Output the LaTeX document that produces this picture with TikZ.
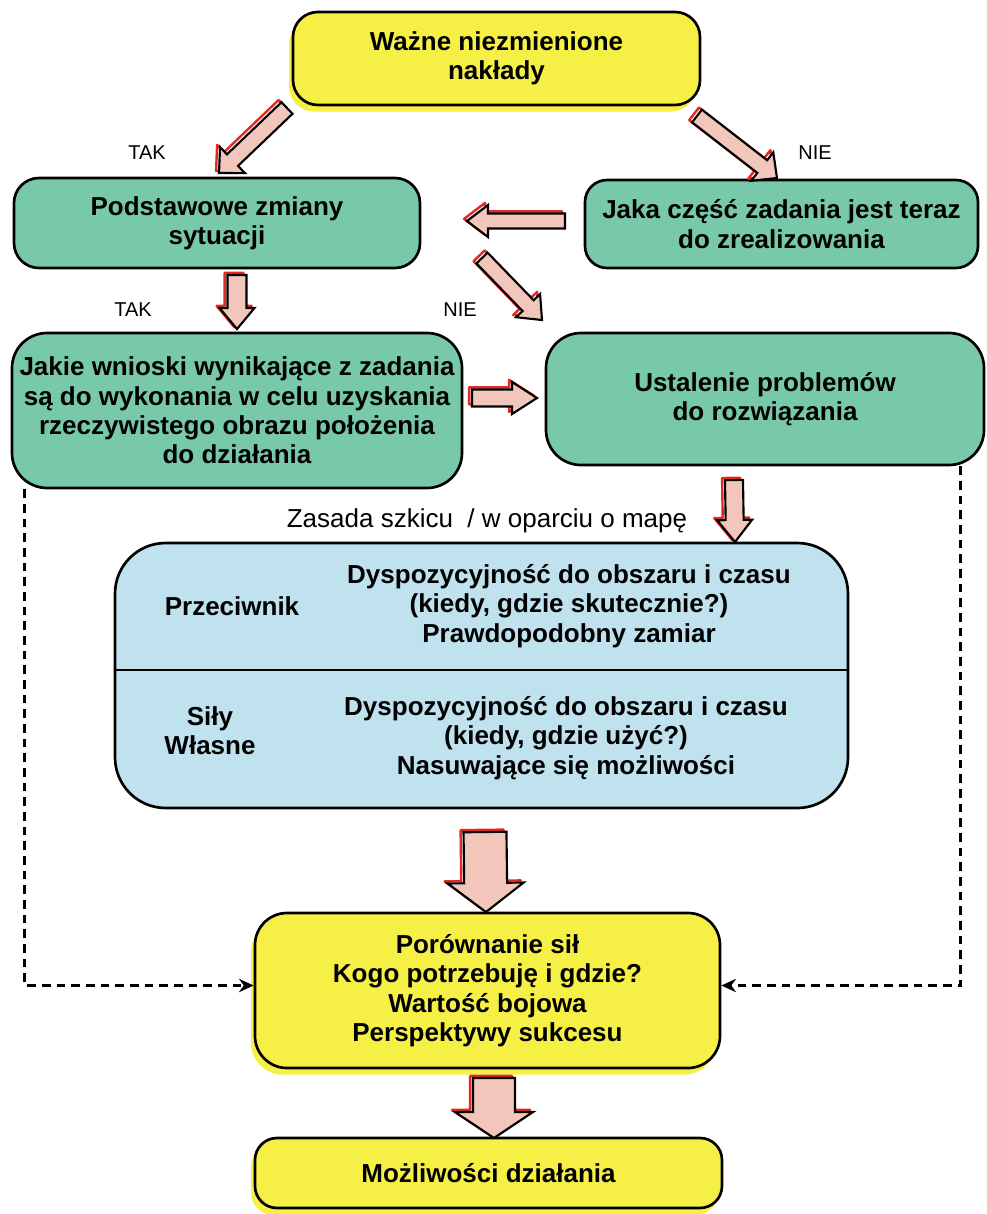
\documentclass[tikz,border=0pt]{standalone}
\usepackage{fontspec}
\setmainfont{Liberation Sans}
\usetikzlibrary{calc,shadows,arrows.meta}
\definecolor{yellowc}{RGB}{246,240,70}
\definecolor{tealc}{RGB}{120,200,170}
\definecolor{bluec}{RGB}{192,225,238}
\definecolor{pinkc}{RGB}{243,198,188}
\definecolor{redc}{RGB}{232,40,30}
\newcommand\bt{\fontsize{19.5}{22}\selectfont\bfseries}
\newcommand\lt{\fontsize{15}{18}\selectfont}
\newcommand\blockarrow[5]{%
  \coordinate (bah) at ($(#2)!#5!(#1)$);
  \begin{scope}[transform canvas={xshift=-2.2pt,yshift=1.6pt}]
    \draw[barshadow] ($(#1)!#3!90:(#2)$) -- ($(bah)!#3!90:(#2)$) -- ($(bah)!#4!90:(#2)$) -- (#2) -- ($(bah)!#4!-90:(#2)$) -- ($(bah)!#3!-90:(#2)$) -- ($(#1)!#3!-90:(#2)$) -- cycle;
  \end{scope}
  \draw[barbody] ($(#1)!#3!90:(#2)$) -- ($(bah)!#3!90:(#2)$) -- ($(bah)!#4!90:(#2)$) -- (#2) -- ($(bah)!#4!-90:(#2)$) -- ($(bah)!#3!-90:(#2)$) -- ($(#1)!#3!-90:(#2)$) -- cycle;
}
\begin{document}
\begin{tikzpicture}[x=0.75pt,y=-0.75pt,
  box/.style={draw=black, line width=2pt, align=center, inner sep=0pt, font=\bt},
  ybox/.style={box, fill=yellowc, drop shadow={shadow xshift=-3pt, shadow yshift=-5pt, fill=yellowc, opacity=1}},
  tbox/.style={box, fill=tealc},
  bbox/.style={box, fill=bluec},
  txt/.style={align=center, inner sep=0pt, font=\bt},
  lbl/.style={inner sep=0pt, font=\lt},
  barshadow/.style={draw=redc, line width=1.8pt, line join=round},
  barbody/.style={draw=black, fill=pinkc, line width=1.6pt, line join=miter},
  dashconn/.style={draw=black, line width=1.8pt, dash pattern=on 6.5pt off 4.5pt, -{Stealth[length=11pt,width=10pt]}}
]
\useasboundingbox (0,0) rectangle (986,1214);
\fill[white] (0,0) rectangle (986,1214);

% boxes
\node[ybox, minimum width=305.25pt, minimum height=69.75pt, rounded corners=18.75pt] (top) at (496.5,58.5) {Ważne niezmienione\\nakłady};
\node[tbox, minimum width=304.5pt, minimum height=67.5pt, rounded corners=18.75pt] (podst) at (217,223) {Podstawowe zmiany\\sytuacji};
\node[tbox, minimum width=294.75pt, minimum height=66pt, rounded corners=16.5pt] (jaka) at (781.5,224) {Jaka część zadania jest teraz\\do zrealizowania};
\node[tbox, minimum width=337.5pt, minimum height=116.25pt, rounded corners=26.25pt] (jakie) at (237,410.5) {Jakie wnioski wynikające z zadania\\są do wykonania w celu uzyskania\\rzeczywistego obrazu położenia\\do działania};
\node[tbox, minimum width=328.5pt, minimum height=99pt, rounded corners=26.25pt] (ust) at (765,399) {Ustalenie problemów\\do rozwiązania};
\node[bbox, minimum width=549.75pt, minimum height=198.75pt, rounded corners=38pt] (blue) at (481.5,675.5) {};
\draw[line width=2pt] (blue.west |- 0,670) -- (blue.east |- 0,670);
\node[txt] (przec) at (232,606) {Przeciwnik};
\node[txt] (przectx) at (569,606) {Dyspozycyjność do obszaru i czasu\\(kiedy, gdzie skutecznie?)\\Prawdopodobny zamiar};
\node[txt] (sily) at (210,731) {Siły\\Własne};
\node[txt] (silytx) at (566,738) {Dyspozycyjność do obszaru i czasu\\(kiedy, gdzie użyć?)\\Nasuwające się możliwości};
\node[ybox, minimum width=348.75pt, minimum height=116.25pt, rounded corners=24pt] (por) at (487.5,990.5) {Porównanie sił\\Kogo potrzebuję i gdzie?\\Wartość bojowa\\Perspektywy sukcesu};
\node[ybox, minimum width=350.25pt, minimum height=52.5pt, rounded corners=16.5pt] (mozl) at (488.5,1173) {Możliwości działania};

% labels
\node[lbl] (tak1) at (147,153) {TAK};
\node[lbl] (nie1) at (815,153) {NIE};
\node[lbl] (tak2) at (133,310) {TAK};
\node[lbl] (nie2) at (460,310) {NIE};
\node[inner sep=0pt, font=\fontsize{19.5}{22}\selectfont] (zasada) at (487,521) {Zasada szkicu\ \ / w oparciu o mapę};

% block arrow end points
\coordinate (a1s) at (287,108); \coordinate (a1e) at (219,173);
\coordinate (a2s) at (697,116); \coordinate (a2e) at (777,178);
\coordinate (a3s) at (565,221); \coordinate (a3e) at (467,221);
\coordinate (a4s) at (482,258); \coordinate (a4e) at (542,320);
\coordinate (a5s) at (237,275); \coordinate (a5e) at (237,329);
\coordinate (a6s) at (472,398); \coordinate (a6e) at (537,398);
\coordinate (a7s) at (734,480); \coordinate (a7e) at (735,542);
\coordinate (a8s) at (485,832); \coordinate (a8e) at (486,912);
\coordinate (a9s) at (494,1078); \coordinate (a9e) at (494,1138);

\blockarrow{a1s}{a1e}{6pt}{13.5pt}{14pt}
\blockarrow{a2s}{a2e}{6pt}{13.5pt}{14pt}
\blockarrow{a3s}{a3e}{5.6pt}{12pt}{15.75pt}
\blockarrow{a4s}{a4e}{5.8pt}{12.5pt}{15pt}
\blockarrow{a5s}{a5e}{7.1pt}{13.1pt}{15.75pt}
\blockarrow{a6s}{a6e}{6.4pt}{12pt}{18.75pt}
\blockarrow{a7s}{a7e}{6.75pt}{13.1pt}{16.5pt}
\blockarrow{a8s}{a8e}{16.1pt}{28.5pt}{21.75pt}
\blockarrow{a9s}{a9e}{15.75pt}{29.25pt}{19.5pt}

% dashed connectors
\draw[dashconn] ([xshift=10.5pt]jakie.south west) |- ([yshift=3.75pt]por.west);
\draw[dashconn] ([xshift=-18.75pt]ust.south east) |- ([yshift=3.75pt]por.east);
\end{tikzpicture}
\end{document}
